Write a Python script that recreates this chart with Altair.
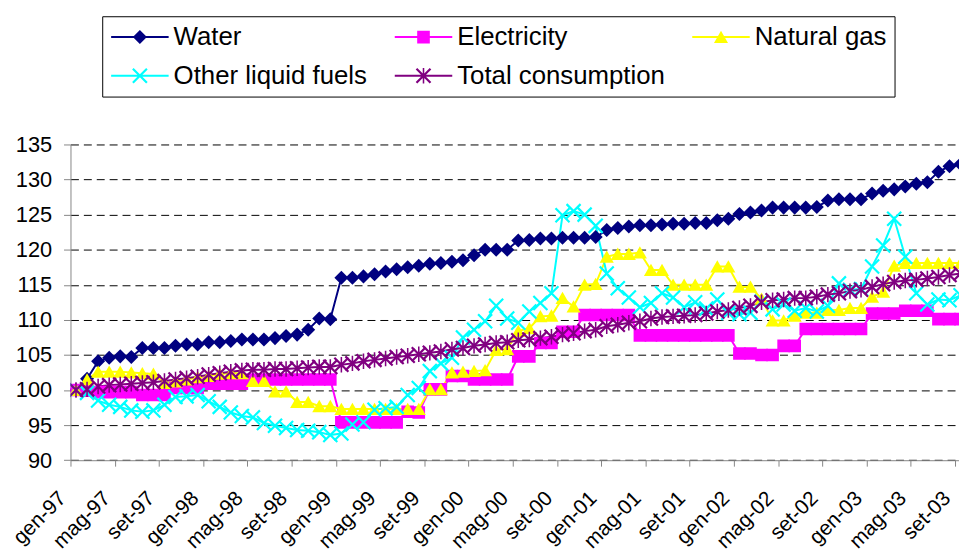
import altair as alt
import pandas as pd

# ---------------- data (monthly index numbers, gen-97 = 100) ----------------
tick_labels = ["gen-97", "mag-97", "set-97", "gen-98", "mag-98", "set-98", "gen-99",
               "mag-99", "set-99", "gen-00", "mag-00", "set-00", "gen-01", "mag-01",
               "set-01", "gen-02", "mag-02", "set-02", "gen-03", "mag-03", "set-03"]

series_names = ["Water", "Electricity", "Natural gas", "Other liquid fuels", "Total consumption"]
series_colors = ["#000080", "#FF00FF", "#FFFF00", "#00FFFF", "#800080"]

water = [100.0, 101.6, 104.1, 104.6, 104.8, 104.7, 106.0, 106.0, 106.0, 106.3,
         106.5, 106.5, 106.8, 106.8, 107.0, 107.2, 107.2, 107.2, 107.4, 107.7,
         107.9, 108.6, 110.2, 110.1, 116.0, 116.0, 116.2, 116.5, 116.9, 117.2,
         117.5, 117.7, 118.0, 118.1, 118.3, 118.5, 119.2, 120.0, 120.0, 120.0,
         121.3, 121.4, 121.6, 121.6, 121.7, 121.7, 121.7, 121.8, 122.8, 123.1,
         123.3, 123.5, 123.5, 123.6, 123.7, 123.7, 123.8, 123.8, 124.2, 124.4,
         125.1, 125.3, 125.6, 126.0, 126.0, 126.0, 126.0, 126.1, 127.0, 127.2,
         127.2, 127.2, 128.0, 128.4, 128.6, 129.0, 129.4, 129.6, 131.1, 131.9, 132.2]

electricity = [100.0, 99.9, 99.7, 99.7, 99.7, 99.7, 99.3, 99.3, 99.3, 100.3,
               100.3, 100.3, 100.9, 100.9, 100.9, 100.9, 101.5, 101.5, 101.5, 101.5,
               101.5, 101.5, 101.5, 101.5, 95.4, 95.4, 95.4, 95.4, 95.4, 95.4,
               96.9, 96.8, 100.1, 100.1, 102.0, 102.0, 101.5, 101.5, 101.5, 101.5,
               104.8, 104.8, 106.7, 106.7, 108.3, 108.3, 110.7, 110.7, 110.7, 110.7,
               110.7, 107.8, 107.8, 107.8, 107.8, 107.8, 107.8, 107.8, 107.8, 107.8,
               105.2, 105.2, 105.0, 105.0, 106.3, 106.3, 108.7, 108.7, 108.7, 108.7,
               108.7, 108.7, 110.9, 110.9, 110.9, 111.3, 111.3, 111.3, 110.1, 110.1, 110.1]

natural_gas = [100.0, 101.5, 102.6, 102.6, 102.6, 102.5, 102.4, 102.3, 101.0, 101.2,
               101.5, 101.8, 102.0, 102.3, 102.4, 102.4, 101.3, 101.3, 99.8, 99.8,
               98.3, 98.3, 97.7, 97.7, 97.3, 97.3, 97.3, 97.3, 97.3, 97.3,
               97.3, 97.3, 100.1, 100.1, 102.5, 102.6, 102.7, 102.8, 105.7, 105.8,
               108.4, 108.8, 110.5, 110.6, 113.1, 111.9, 115.0, 115.1, 119.0, 119.4,
               119.4, 119.6, 117.1, 117.1, 115.0, 115.0, 115.0, 115.0, 117.6, 117.6,
               114.7, 114.7, 113.0, 109.9, 109.9, 110.6, 111.0, 111.0, 111.4, 111.4,
               111.7, 111.7, 113.3, 114.0, 117.7, 118.1, 118.1, 118.1, 118.1, 118.1, 118.1]

other_liquid_fuels = [100.0, 99.6, 98.5, 97.9, 97.6, 97.1, 96.9, 97.1, 97.9, 99.0,
                      99.1, 99.3, 98.4, 97.6, 96.8, 96.3, 96.1, 95.3, 94.9, 94.6,
                      94.3, 94.2, 94.0, 93.6, 93.8, 95.1, 95.4, 97.2, 97.4, 97.6,
                      99.3, 100.3, 102.7, 103.8, 104.6, 107.5, 108.6, 109.8, 112.0, 110.2,
                      109.6, 111.2, 112.4, 113.8, 124.9, 125.5, 125.0, 123.4, 116.6, 114.5,
                      113.2, 111.8, 112.4, 113.8, 113.2, 111.8, 112.5, 111.6, 112.9, 111.0,
                      110.8, 111.0, 112.6, 111.5, 112.2, 111.3, 111.7, 111.2, 112.0, 115.2,
                      114.3, 114.4, 117.6, 120.6, 124.4, 119.0, 113.8, 112.2, 112.9, 112.8, 113.5]

total_consumption = [100.0, 100.1, 100.5, 100.7, 100.8, 100.9, 101.0, 101.1, 101.3, 101.5,
                     101.7, 101.9, 102.2, 102.4, 102.6, 102.8, 102.9, 102.9, 103.0, 103.0,
                     103.1, 103.2, 103.3, 103.3, 103.6, 103.8, 104.1, 104.3, 104.5, 104.7,
                     104.9, 105.1, 105.3, 105.5, 105.8, 106.0, 106.3, 106.5, 106.7, 106.8,
                     107.1, 107.2, 107.4, 107.6, 107.9, 108.1, 108.4, 108.6, 109.1, 109.3,
                     109.6, 109.8, 110.2, 110.4, 110.5, 110.6, 110.7, 110.9, 111.2, 111.4,
                     111.7, 112.0, 112.5, 112.8, 112.9, 113.1, 113.1, 113.3, 113.6, 113.8,
                     114.1, 114.3, 114.7, 115.1, 115.4, 115.6, 115.7, 115.9, 116.1, 116.4, 116.6]

# marker shapes as unit SVG paths: diamond, square, triangle, x, asterisk
shape_diamond = "M-1,0L0,-1L1,0L0,1Z"
shape_square = "M-0.9,-0.9L0.9,-0.9L0.9,0.9L-0.9,0.9Z"
shape_triangle = "M0,-0.9L1,0.85L-1,0.85Z"
shape_x = ("M-1.11,-0.89L0.89,1.11L1.11,0.89L-0.89,-1.11Z"
           "M-0.89,1.11L1.11,-0.89L0.89,-1.11L-1.11,0.89Z")
shape_asterisk = shape_x + "M-0.11,-1.1L-0.11,1.1L0.11,1.1L0.11,-1.1Z"
series_shapes = [shape_diamond, shape_square, shape_triangle, shape_x, shape_asterisk]

# legend keys: marker + a short line through it (same winding as the marker)
key_line_pos = "M-4.1,-0.14L4.1,-0.14L4.1,0.14L-4.1,0.14Z"
key_line_neg = "M-4.1,-0.14L-4.1,0.14L4.1,0.14L4.1,-0.14Z"
legend_shapes = [key_line_pos + shape_diamond, key_line_pos + shape_square,
                 key_line_pos + shape_triangle, key_line_neg + shape_x,
                 key_line_neg + shape_asterisk]

# ---------------- long table ----------------
rows = []
for name, vals in zip(series_names, [water, electricity, natural_gas,
                                     other_liquid_fuels, total_consumption]):
    for i, v in enumerate(vals):
        rows.append({"series": name, "t": i + 0.5, "value": v})
df = pd.DataFrame(rows)

FONT = "Liberation Sans"
AXIS_GREY = "#868686"

label_expr = "[" + ",".join("'%s'" % s for s in tick_labels) + "][round(datum.value / 4)]"

x_enc = alt.X(
    "t:Q",
    scale=alt.Scale(domain=[0, 80.36], nice=False, zero=False),
    axis=alt.Axis(
        values=list(range(0, 81, 4)), labelExpr=label_expr, title=None, grid=False,
        labelAngle=-45, labelAlign="right", labelBaseline="middle",
        labelFont=FONT, labelFontSize=21, labelColor="black",
        labelPadding=29, labelOffset=-8, labelOverlap=False, labelFlush=False,
        labelBound=False, tickSize=6, tickColor=AXIS_GREY, domainColor=AXIS_GREY,
        zindex=1,
    ),
)
y_enc = alt.Y(
    "value:Q",
    scale=alt.Scale(domain=[90, 135], nice=False, zero=False),
    axis=alt.Axis(
        values=list(range(90, 136, 5)), title=None, grid=True,
        gridColor="black", gridDash=[8, 5], gridWidth=1, gridOpacity=1,
        labelFont=FONT, labelFontSize=22, labelColor="black", labelPadding=12,
        tickSize=7, tickColor=AXIS_GREY, domainColor=AXIS_GREY,
    ),
)

key_legend = alt.Legend(
    title=None, orient="none", legendX=32, legendY=-129.3, direction="horizontal",
    columns=3, gridAlign="each", labelFont=FONT, labelFontSize=26,
    labelColor="black", labelLimit=400, padding=8, rowPadding=13, columnPadding=26,
    symbolSize=200, symbolStrokeWidth=0, symbolOffset=17, labelOffset=21,
    symbolOpacity=1, strokeColor="black",
)

color_scale = alt.Scale(domain=series_names, range=series_colors)

lines = alt.Chart(df).mark_line(strokeWidth=2, clip=True).encode(
    x=x_enc, y=y_enc,
    color=alt.Color("series:N", scale=color_scale, legend=None),
)

points = alt.Chart(df).mark_point(filled=True, size=200, opacity=1, strokeWidth=0,
                                  clip=True).encode(
    x=x_enc, y=y_enc,
    color=alt.Color("series:N", scale=color_scale, legend=None),
    shape=alt.Shape("series:N",
                    scale=alt.Scale(domain=series_names, range=series_shapes),
                    legend=None),
)

# legend-only layer (no rows survive the filter; the legend lists the scale domain)
legend_layer = alt.Chart(df).transform_filter("datum.t < 0").mark_point(
    filled=True, size=200, opacity=1, strokeWidth=0).encode(
    x=x_enc, y=y_enc,
    color=alt.Color("series:N", scale=color_scale, legend=key_legend),
    shape=alt.Shape("series:N",
                    scale=alt.Scale(domain=series_names, range=legend_shapes),
                    legend=key_legend),
)

chart = (
    alt.layer(lines, points, legend_layer)
    .resolve_scale(color="independent", shape="independent")
    .resolve_legend(color="independent", shape="independent")
    .properties(
        width=896, height=318.4,
        autosize=alt.AutoSizeParams(type="none"),
        padding={"left": 63, "top": 135.3, "right": 0, "bottom": 96.3},
        background="white",
    )
    .configure_view(stroke="transparent")
)

chart.save("out.html", embed_options={"renderer": "svg", "actions": False})
